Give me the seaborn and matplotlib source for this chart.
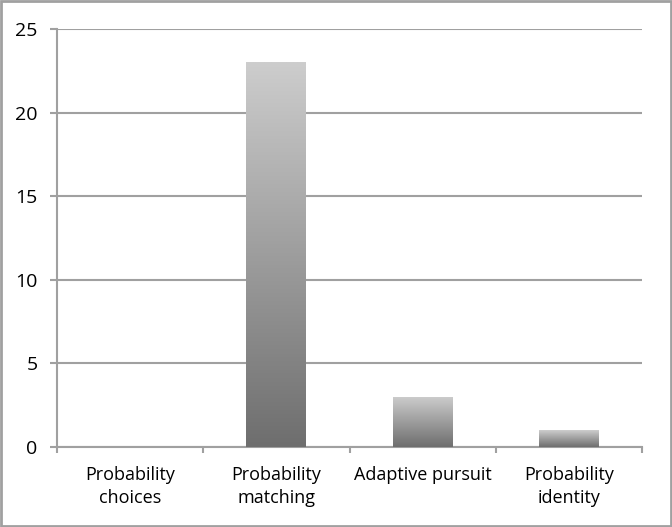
import numpy as np
import pandas as pd
import matplotlib.pyplot as plt
import seaborn as sns

# -------------------------------
# DATA
# -------------------------------
methods = ["Probability\nchoices", "Probability\nmatching", "Adaptive pursuit", "Probability\nidentity"]
counts = [0, 23, 3, 1]
y_ticks = [0, 5, 10, 15, 20, 25]

df = pd.DataFrame({"method": methods, "count": counts})

sns.set_theme(style="white")
plt.rcParams["font.family"] = ["Open Sans", "DejaVu Sans"]

fig = plt.figure(figsize=(6.72, 5.27), dpi=100)
ax = fig.add_axes([57 / 672, 1 - 447 / 527, 585 / 672, 418 / 527])

sns.barplot(data=df, x="method", y="count", color="#999999", width=0.41, ax=ax, zorder=2)

# gradient fill per bar (light top -> dark bottom)
grad = np.linspace(0, 1, 256).reshape(-1, 1)
cmap = plt.matplotlib.colors.LinearSegmentedColormap.from_list("g", ["#6e6e6e", "#cdcdcd"])
for p in ax.patches:
    x0, y0 = p.get_x(), p.get_y()
    w, h = p.get_width(), p.get_height()
    if h <= 0:
        continue
    im = ax.imshow(grad, cmap=cmap, aspect="auto", origin="lower",
                   extent=[x0, x0 + w, y0, y0 + h], zorder=3)
    im.set_clip_path(p)
    p.set_edgecolor("none")

ax.set_xlim(-0.5, len(methods) - 0.5)
ax.set_ylim(0, 25)
ax.set_yticks(y_ticks)
ax.set_yticklabels([str(t) for t in y_ticks], fontsize=14, color="black")
ax.yaxis.grid(True, color="#a0a0a0", linewidth=1.5, zorder=0)
ax.set_axisbelow(True)

ax.set_xlabel("")
ax.set_ylabel("")
ax.set_xticks(range(len(methods)))
ax.set_xticklabels(methods, fontsize=13, linespacing=1.3, color="black")
ax.tick_params(axis="x", length=0, pad=14)
ax.tick_params(axis="y", left=True, length=5, width=1.5, color="#a0a0a0", pad=9)

# category separator ticks
ax.set_xticks([i - 0.5 for i in range(len(methods) + 1)], minor=True)
ax.tick_params(axis="x", which="minor", bottom=True, length=4.5, width=1.5, color="#a0a0a0")

for s in ["top", "right"]:
    ax.spines[s].set_visible(False)
for s in ["left", "bottom"]:
    ax.spines[s].set_color("#a0a0a0")
    ax.spines[s].set_linewidth(1.5)

# outer border
fig.patches.append(plt.Rectangle((0.002, 0.002), 0.996, 0.996, transform=fig.transFigure,
                                 fill=False, edgecolor="#a0a0a0", linewidth=2))

fig.savefig("out.png", dpi=100)
